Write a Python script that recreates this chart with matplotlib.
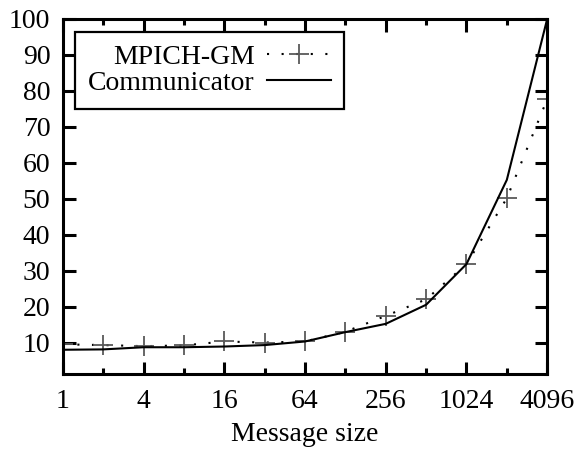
import matplotlib
matplotlib.use("Agg")
import matplotlib.pyplot as plt
from matplotlib.ticker import FixedLocator, NullFormatter

plt.rcParams['font.family'] = ['Liberation Serif', 'DejaVu Serif']

# message sizes and timings
sizes = [1, 2, 4, 8, 16, 32, 64, 128, 256, 512, 1024, 2048, 4096]
mpich_gm = [9.6, 9.4, 9.1, 9.3, 10.4, 10.1, 10.4, 13.1, 17.5, 22.1, 31.9, 50.2, 77.7]
communicator = [8.1, 8.2, 8.8, 8.8, 9.0, 9.4, 10.4, 13.0, 15.3, 20.6, 31.9, 55.3, 100.0]

major_x = [1, 4, 16, 64, 256, 1024, 4096]
minor_x = [2, 8, 32, 128, 512, 2048]
y_ticks = [10, 20, 30, 40, 50, 60, 70, 80, 90, 100]

fig = plt.figure(figsize=(5.76, 4.51), dpi=100)
ax = fig.add_axes([0.109, 0.171, 0.841, 0.787])

ax.plot(sizes, mpich_gm, color='black', lw=1.5, dashes=(1, 6),
        marker='+', markersize=14, markeredgewidth=1.3, markeredgecolor='0.35',
        label='MPICH-GM')
ax.plot(sizes, communicator, color='black', lw=1.5, label='Communicator')

ax.set_xscale('log', base=2)
ax.set_xlim(1, 4096)
ax.set_ylim(1.4, 100)
ax.xaxis.set_major_locator(FixedLocator(major_x))
ax.xaxis.set_minor_locator(FixedLocator(minor_x))
ax.set_xticklabels([str(v) for v in major_x])
ax.xaxis.set_minor_formatter(NullFormatter())
ax.set_yticks(y_ticks)

for s in ax.spines.values():
    s.set_linewidth(2.2)
ax.tick_params(which='both', direction='in', top=True, right=True,
               labelsize=20, width=2.2, pad=11)
ax.tick_params(which='major', length=9)
ax.tick_params(which='minor', length=4.5)
ax.tick_params(axis='y', pad=9)

ax.set_xlabel('Message size', fontsize=20, labelpad=6)

leg = ax.legend(loc='upper left', bbox_to_anchor=(0.025, 0.964), borderaxespad=0,
                fontsize=20, markerfirst=False, numpoints=1, handlelength=2.3,
                fancybox=False, framealpha=1, edgecolor='black',
                labelspacing=0.02, borderpad=0.47, handletextpad=0.45)
leg.get_frame().set_linewidth(1.6)

fig.savefig('out.png', dpi=100)
